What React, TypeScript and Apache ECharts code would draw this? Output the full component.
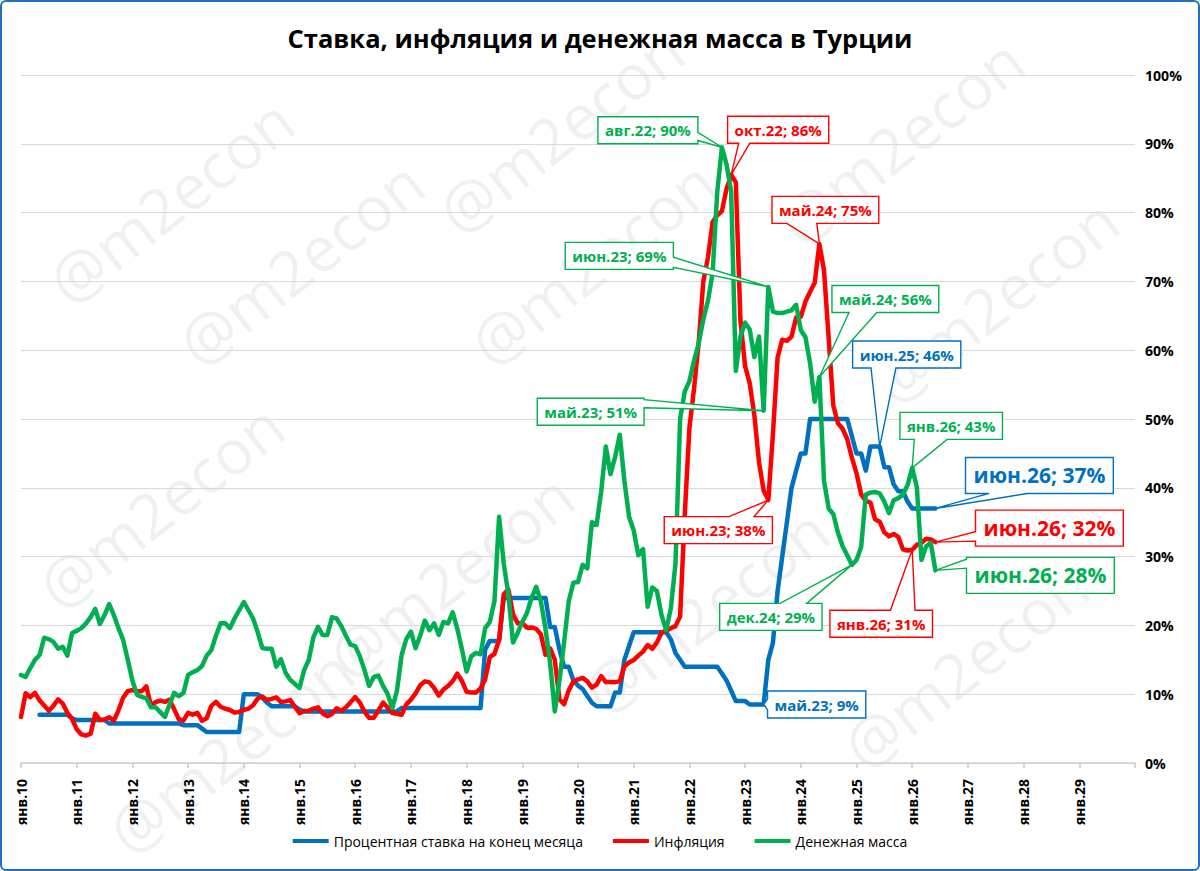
import React, { useEffect, useRef } from "react";
import * as echarts from "echarts";

const FAMILY = "'Open Sans', 'Noto Sans', 'DejaVu Sans', sans-serif";
const TITLE = "Ставка, инфляция и денежная масса в Турции";
const WATERMARK = "@m2econ";

// ---- categories ----
const MONTHS = ["янв", "фев", "мар", "апр", "май", "июн", "июл", "авг", "сен", "окт", "ноя", "дек"];
const YEARS = [10, 11, 12, 13, 14, 15, 16, 17, 18, 19, 20, 21, 22, 23, 24, 25, 26, 27, 28, 29];
const LAST_CATEGORY = "янв.30";
const CATEGORIES: string[] = [...YEARS.flatMap((y) => MONTHS.map((m) => `${m}.${y}`)), LAST_CATEGORY];

const NAME_RATE = "Процентная ставка на конец месяца";
const NAME_INFL = "Инфляция";
const NAME_MONEY = "Денежная масса";

const COLOR_RATE = "#0070C0";
const COLOR_INFL = "#FF0000";
const COLOR_MONEY = "#00B050";

// ---- series values (monthly, from янв.10) ----
const RATE: (number | null)[] = [
  null, null, null, null, 7, 7, 7, 7, 7, 7, 7, 6.5,
  6.25, 6.25, 6.25, 6.25, 6.25, 6.25, 6.25, 5.75, 5.75, 5.75, 5.75, 5.75,
  5.75, 5.75, 5.75, 5.75, 5.75, 5.75, 5.75, 5.75, 5.75, 5.75, 5.75, 5.5,
  5.5, 5.5, 5.5, 5.0, 4.5, 4.5, 4.5, 4.5, 4.5, 4.5, 4.5, 4.5,
  10, 10, 10, 10, 9.5, 8.75, 8.25, 8.25, 8.25, 8.25, 8.25, 8.25,
  7.75, 7.5, 7.5, 7.5, 7.5, 7.5, 7.5, 7.5, 7.5, 7.5, 7.5, 7.5,
  7.5, 7.5, 7.5, 7.5, 7.5, 7.5, 7.5, 7.5, 7.5, 7.5, 8, 8,
  8, 8, 8, 8, 8, 8, 8, 8, 8, 8, 8, 8,
  8, 8, 8, 8, 16.5, 17.75, 17.75, 17.75, 24, 24, 24, 24,
  24, 24, 24, 24, 24, 24, 19.75, 19.75, 16.5, 14, 14, 12,
  11.25, 10.75, 9.75, 8.75, 8.25, 8.25, 8.25, 8.25, 10.25, 10.25, 15, 17,
  19, 19, 19, 19, 19, 19, 19, 19, 18, 16, 15, 14,
  14, 14, 14, 14, 14, 14, 14, 13, 12, 10.5, 9, 9,
  9, 8.5, 8.5, 8.5, 8.5, 15, 17.5, 25, 30, 35, 40, 42.5,
  45, 45, 50, 50, 50, 50, 50, 50, 50, 50, 50, 47.5,
  45, 45, 42.5, 46, 46, 46, 43, 43, 40.5, 39.5, 39.5, 38,
  37, 37, 37, 37, 37, 37,
];

const INFLATION: number[] = [
  6.7, 10.13, 9.56, 10.19, 9.1, 8.37, 7.58, 8.33, 9.24, 8.62, 7.29, 6.4,
  4.9, 4.16, 3.99, 4.26, 7.17, 6.24, 6.31, 6.65, 6.15, 7.66, 9.48, 10.45,
  10.61, 10.43, 10.43, 11.14, 8.28, 8.87, 9.07, 8.88, 9.19, 7.8, 6.37, 6.16,
  7.31, 7.03, 7.29, 6.13, 6.51, 8.3, 8.88, 8.17, 7.88, 7.71, 7.32, 7.4,
  7.75, 7.89, 8.39, 9.38, 9.66, 9.16, 9.32, 9.54, 8.86, 8.96, 9.15, 8.17,
  7.24, 7.55, 7.61, 7.91, 8.09, 7.2, 6.81, 7.14, 7.95, 7.58, 8.1, 8.81,
  9.58, 8.78, 7.46, 6.57, 6.58, 7.64, 8.79, 8.05, 7.28, 7.16, 7.0, 8.53,
  9.22, 10.13, 11.29, 11.87, 11.72, 10.9, 9.79, 10.68, 11.2, 11.9, 12.98, 11.92,
  10.35, 10.26, 10.23, 10.85, 12.15, 15.39, 15.85, 17.9, 24.52, 25.24, 21.62, 20.3,
  20.35, 19.67, 19.71, 19.5, 18.71, 15.72, 16.65, 15.01, 9.26, 8.55, 10.56, 11.84,
  12.15, 12.37, 11.86, 10.94, 11.39, 12.62, 11.76, 11.77, 11.75, 11.89, 14.03, 14.6,
  14.97, 15.61, 16.19, 17.14, 16.59, 17.53, 18.95, 19.25, 19.58, 19.89, 21.31, 36.08,
  48.69, 54.44, 61.14, 69.97, 73.5, 78.62, 79.6, 80.21, 83.45, 85.51, 84.39, 64.27,
  57.68, 55.18, 50.51, 43.68, 39.59, 38.21, 47.83, 58.94, 61.53, 61.36, 61.98, 64.77,
  64.86, 67.07, 68.5, 69.8, 75.45, 71.6, 61.78, 51.97, 49.38, 48.58, 47.09, 44.38,
  42.12, 39.05, 38.1, 37.86, 35.41, 35.05, 33.52, 32.95, 33.29, 32.87, 31.07, 30.89,
  31.0, 31.7, 32.0, 32.6, 32.5, 32.1,
];

const MONEY: number[] = [
  12.8, 12.5, 13.8, 15.0, 15.7, 18.2, 18.0, 17.6, 16.6, 16.9, 15.6, 18.9,
  19.2, 19.6, 20.3, 21.2, 22.4, 20.2, 21.5, 23.1, 21.5, 19.6, 17.9, 15.0,
  12.0, 9.9, 9.6, 9.4, 8.1, 8.1, 7.4, 6.7, 8.5, 10.2, 9.7, 10.2,
  12.8, 13.2, 13.5, 14.1, 15.6, 16.4, 18.5, 20.3, 20.3, 19.6, 21.0, 22.2,
  23.4, 22.2, 21.0, 19.0, 16.7, 16.6, 16.6, 14.0, 15.1, 13.1, 12.1, 11.5,
  10.9, 13.5, 15.0, 18.3, 19.8, 18.6, 18.6, 21.2, 21.0, 19.9, 18.5, 17.2,
  17.0, 15.5, 13.5, 11.2, 12.5, 12.7, 11.2, 10.0, 8.0, 10.5, 15.7, 18.0,
  19.1, 16.7, 18.5, 20.7, 19.3, 20.3, 18.6, 20.5, 20.3, 21.9, 19.5, 16.5,
  13.3, 15.5, 16.0, 15.8, 19.6, 20.5, 23.5, 35.8, 29.0, 24.5, 17.5, 18.9,
  20.5, 21.8, 24.0, 25.6, 23.5, 19.5, 14.5, 7.5, 12.0, 17.5, 23.5, 26.2,
  26.3, 28.8, 28.3, 35.0, 34.6, 39.5, 46.0, 42.0, 44.5, 47.7, 41.0, 35.8,
  33.8, 30.2, 31.1, 22.7, 25.5, 25.0, 21.5, 19.3, 22.5, 29.0, 50.0, 54.0,
  55.5, 58.5, 61.0, 64.5, 67.2, 71.2, 83.0, 89.5, 87.0, 83.0, 57.0, 62.0,
  64.0, 63.0, 59.0, 62.0, 51.2, 69.2, 65.6, 65.4, 65.4, 65.6, 65.8, 66.6,
  62.9, 61.9, 58.1, 52.5, 56.1, 41.0, 37.0, 36.2, 33.5, 31.5, 30.2, 28.8,
  29.5, 31.4, 39.0, 39.3, 39.4, 39.2, 38.0, 36.3, 38.2, 38.5, 39.0, 40.4,
  42.9, 40.1, 29.5, 31.5, 32.0, 28.0,
];

// ---- callout annotations (which point, and where its box sits relative to it) ----
type Side = "left" | "right" | "top" | "bottom";
interface Ann {
  key: "rate" | "infl" | "money";
  month: string;
  dx: number;
  dy: number;
  side: Side;
  t: [number, number];
  big?: boolean;
}
const ANNOTATIONS: Ann[] = [
  { key: "money", month: "авг.22", dx: -74, dy: -17, side: "right", t: [0.58, 0.88] },
  { key: "infl", month: "окт.22", dx: 47, dy: -45, side: "bottom", t: [0.11, 0.22] },
  { key: "infl", month: "май.24", dx: 6, dy: -34, side: "bottom", t: [0.14, 0.42] },
  { key: "money", month: "июн.23", dx: -149, dy: -31, side: "right", t: [0.55, 0.92] },
  { key: "money", month: "май.23", dx: -173, dy: 1, side: "right", t: [0.05, 0.35] },
  { key: "money", month: "май.24", dx: 66, dy: -78, side: "bottom", t: [0.16, 0.42] },
  { key: "rate", month: "июн.25", dx: 27, dy: -92, side: "bottom", t: [0.17, 0.4] },
  { key: "money", month: "янв.26", dx: 39, dy: -42, side: "bottom", t: [0.14, 0.46] },
  { key: "rate", month: "июн.26", dx: 104, dy: -33, side: "bottom", t: [0.16, 0.42], big: true },
  { key: "infl", month: "июн.26", dx: 114, dy: -14, side: "left", t: [0.6, 0.86], big: true },
  { key: "money", month: "июн.26", dx: 105, dy: 5, side: "left", t: [0.05, 0.3], big: true },
  { key: "infl", month: "янв.26", dx: -31, dy: 74, side: "top", t: [0.59, 0.83] },
  { key: "money", month: "дек.24", dx: -81, dy: 52, side: "top", t: [0.59, 0.85] },
  { key: "infl", month: "июн.23", dx: -50, dy: 30, side: "top", t: [0.6, 0.83] },
  { key: "rate", month: "май.23", dx: 53, dy: 0, side: "left", t: [0.3, 0.7] },
];

const WATERMARK_CENTERS: [number, number][] = [
  [170, 200], [560, 130], [900, 140], [300, 262], [592, 262], [995, 300],
  [160, 505], [450, 575], [705, 610], [965, 665], [230, 750],
];

const SERIES_BY_KEY: Record<string, { data: (number | null)[]; color: string }> = {
  rate: { data: RATE, color: COLOR_RATE },
  infl: { data: INFLATION, color: COLOR_INFL },
  money: { data: MONEY, color: COLOR_MONEY },
};

let measureCtx: CanvasRenderingContext2D | null = null;
function measure(text: string, font: string): number {
  if (!measureCtx) measureCtx = document.createElement("canvas").getContext("2d");
  measureCtx!.font = font;
  return measureCtx!.measureText(text).width;
}
function fitSize(text: string, weight: string, target: number): number {
  const w = measure(text, `${weight} 100px ${FAMILY}`);
  return Math.round((target * 100 * 10) / w) / 10;
}

export default function App() {
  const ref = useRef<HTMLDivElement>(null);

  useEffect(() => {
    if (!ref.current) return;
    const chart = echarts.init(ref.current, undefined, { renderer: "svg" });

    const titleSize = fitSize(TITLE, "bold", 625);
    const legendSize = fitSize(NAME_RATE, "normal", 249);
    const xLabelSize = fitSize("янв.10", "bold", 46);
    const yLabelSize = fitSize("100%", "bold", 37);
    const smallSize = fitSize("авг.22; 90%", "bold", 86);
    const bigSize = fitSize("июн.26; 37%", "bold", 132);
    const wmSize = fitSize(WATERMARK, "normal", 290);

    const lineSeries = (name: string, data: (number | null)[], color: string) => ({
      type: "line",
      name,
      data,
      showSymbol: false,
      symbol: "none",
      connectNulls: false,
      lineStyle: { color, width: 4.5, join: "round", cap: "round" },
      itemStyle: { color },
      z: 3,
    });

    const annData = ANNOTATIONS.map((a) => {
      const idx = CATEGORIES.indexOf(a.month);
      return [a.month, SERIES_BY_KEY[a.key].data[idx]];
    });

    const option: any = {
      animation: false,
      backgroundColor: "#ffffff",
      textStyle: { fontFamily: FAMILY },
      grid: { left: 21, right: 65, top: 75, bottom: 108, containLabel: false },
      graphic: [
        ...WATERMARK_CENTERS.map(([x, y]) => ({
          type: "text",
          x,
          y,
          rotation: 0.66,
          z: 0,
          silent: true,
          style: {
            text: WATERMARK,
            fontSize: wmSize,
            fontFamily: FAMILY,
            fill: "rgba(0,0,0,0.06)",
            align: "center",
            verticalAlign: "middle",
          },
        })),
        {
          type: "text",
          x: 600,
          y: 38,
          z: 10,
          style: {
            text: TITLE,
            fontSize: titleSize,
            fontWeight: "bold",
            fontFamily: FAMILY,
            fill: "#000000",
            align: "center",
            verticalAlign: "middle",
          },
        },
      ],
      legend: {
        data: [NAME_RATE, NAME_INFL, NAME_MONEY],
        bottom: 18,
        left: "center",
        icon: "rect",
        itemWidth: 36,
        itemHeight: 4,
        itemGap: 30,
        textStyle: { fontSize: legendSize, color: "#000", fontFamily: FAMILY },
        selectedMode: false,
      },
      xAxis: {
        type: "category",
        data: CATEGORIES,
        boundaryGap: false,
        axisLine: { lineStyle: { color: "#D0D0D0", width: 1.5 } },
        axisTick: { show: true, interval: 11, length: 5, lineStyle: { color: "#C8C8C8", width: 1.5 } },
        axisLabel: {
          interval: 11,
          rotate: 90,
          margin: 16,
          fontSize: xLabelSize,
          fontWeight: "bold",
          color: "#000",
          fontFamily: FAMILY,
          formatter: (v: string) => (v === LAST_CATEGORY ? "" : v),
        },
        splitLine: { show: false },
      },
      yAxis: {
        type: "value",
        position: "right",
        min: 0,
        max: 100,
        interval: 10,
        axisLine: { show: false },
        axisTick: { show: false },
        axisLabel: {
          formatter: "{value}%",
          margin: 10,
          fontSize: yLabelSize,
          fontWeight: "bold",
          color: "#000",
          fontFamily: FAMILY,
        },
        splitLine: { lineStyle: { color: "#D9D9D9", width: 1.2 } },
      },
      series: [
        lineSeries(NAME_RATE, RATE, COLOR_RATE),
        lineSeries(NAME_INFL, INFLATION, COLOR_INFL),
        lineSeries(NAME_MONEY, MONEY, COLOR_MONEY),
        {
          type: "custom",
          name: "callouts",
          data: annData,
          encode: { x: 0, y: 1 },
          clip: false,
          silent: true,
          z: 10,
          renderItem: (params: any, api: any) => {
            const a = ANNOTATIONS[params.dataIndex];
            const color = SERIES_BY_KEY[a.key].color;
            const val = api.value(1) as number;
            const p = api.coord([api.value(0), val]);
            const fs = a.big ? bigSize : smallSize;
            const text = `${a.month}; ${Math.round(val)}%`;
            const tw = measure(text, `bold ${fs}px ${FAMILY}`);
            const w = tw + (a.big ? 16 : 14);
            const h = a.big ? 36 : 27;
            const cx = p[0] + a.dx;
            const cy = p[1] + a.dy;
            const x0 = cx - w / 2, x1 = cx + w / 2, y0 = cy - h / 2, y1 = cy + h / 2;
            const [t0, t1] = a.t;
            let pts: number[][];
            if (a.side === "right") {
              pts = [[x0, y0], [x1, y0], [x1, y0 + t0 * h], [p[0], p[1]], [x1, y0 + t1 * h], [x1, y1], [x0, y1]];
            } else if (a.side === "bottom") {
              pts = [[x0, y0], [x1, y0], [x1, y1], [x0 + t1 * w, y1], [p[0], p[1]], [x0 + t0 * w, y1], [x0, y1]];
            } else if (a.side === "left") {
              pts = [[x0, y0], [x1, y0], [x1, y1], [x0, y1], [x0, y0 + t1 * h], [p[0], p[1]], [x0, y0 + t0 * h]];
            } else {
              pts = [[x0, y0], [x0 + t0 * w, y0], [p[0], p[1]], [x0 + t1 * w, y0], [x1, y0], [x1, y1], [x0, y1]];
            }
            return {
              type: "group",
              children: [
                {
                  type: "polygon",
                  shape: { points: pts },
                  style: { fill: "#ffffff", stroke: color, lineWidth: 1.4 },
                },
                {
                  type: "text",
                  x: cx,
                  y: cy,
                  style: {
                    text,
                    fill: color,
                    fontSize: fs,
                    fontWeight: "bold",
                    fontFamily: FAMILY,
                    align: "center",
                    verticalAlign: "middle",
                  },
                },
              ],
            };
          },
        },
      ],
    };

    chart.setOption(option);
    return () => chart.dispose();
  }, []);

  return (
    <div style={{ position: "absolute", left: 0, top: 0, width: 1200, height: 871, background: "#fff" }}>
      <div ref={ref} style={{ position: "absolute", left: 0, top: 0, width: 1200, height: 871 }} />
      <div
        style={{
          position: "absolute",
          left: 0,
          top: 0,
          width: 1200,
          height: 871,
          boxSizing: "border-box",
          border: "2px solid #1F6FC6",
          borderRadius: 6,
          pointerEvents: "none",
        }}
      />
    </div>
  );
}
